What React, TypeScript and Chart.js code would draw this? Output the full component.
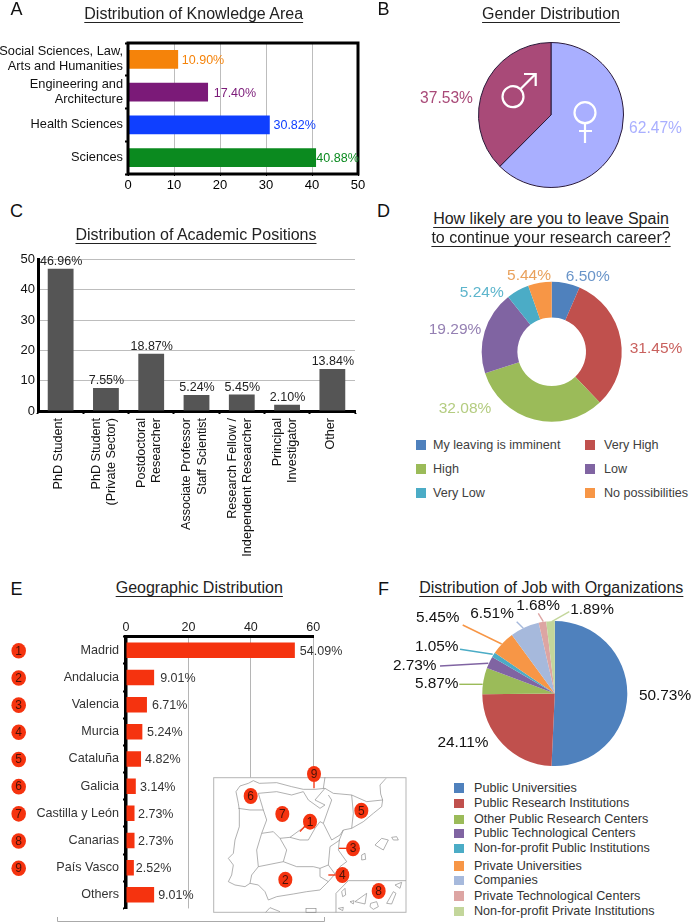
import React, { useEffect, useRef } from "react";
import { Chart, registerables } from "chart.js";

Chart.register(...registerables);

const FONT = '"Liberation Sans", Arial, sans-serif';

// ---------- data ----------
const areaLabels = [["Social Sciences, Law,", "Arts and Humanities"], ["Engineering and", "Architecture"], "Health Sciences", "Sciences"];
const areaValues = [10.9, 17.4, 30.82, 40.88];

const genderLabels = ["Female", "Male"];
const genderValues = [62.47, 37.53];

const positionLabels = [
  "PhD Student",
  ["PhD Student", "(Private Sector)"],
  ["Postdoctoral", "Researcher"],
  ["Associate Professor", "Staff Scientist"],
  ["Research Fellow /", "Independent Researcher"],
  ["Principal", "Investigator"],
  "Other",
];
const positionValues = [46.96, 7.55, 18.87, 5.24, 5.45, 2.1, 13.84];

const leaveLabels = ["My leaving is imminent", "Very High", "High", "Low", "Very Low", "No possibilities"];
const leaveValues = [6.5, 31.45, 32.08, 19.29, 5.24, 5.44];

const regionLabels = ["Madrid", "Andalucia", "Valencia", "Murcia", "Cataluña", "Galicia", "Castilla y León", "Canarias", "País Vasco", "Others"];
const regionValues = [54.09, 9.01, 6.71, 5.24, 4.82, 3.14, 2.73, 2.73, 2.52, 9.01];
const regionMarkers = ["1", "2", "3", "4", "5", "6", "7", "8", "9"];

const jobLabels = [
  "Public Universities",
  "Public Research Institutions",
  "Other Public Research Centers",
  "Public Technological Centers",
  "Non-for-profit Public Institutions",
  "Private Universities",
  "Companies",
  "Private Technological Centers",
  "Non-for-profit Private Institutions",
];
const jobValues = [50.73, 24.11, 5.87, 2.73, 1.05, 5.45, 6.51, 1.68, 1.89];

// ---------- styles ----------
const areaColors = ["#F5830A", "#7B1A78", "#0F3FFF", "#0B8A1F"];
const genderColors = ["#A9AFFF", "#A94A78"];
const leaveColors = ["#4F81BD", "#C0504D", "#9BBB59", "#8064A2", "#4BACC6", "#F79646"];
const leaveTextColors = ["#6A95C9", "#C9615E", "#B4CC80", "#9580B3", "#5DB5CC", "#E9A15C"];
const jobColors = ["#4F81BD", "#C0504D", "#9BBB59", "#8064A2", "#4BACC6", "#F79646", "#A6B9DC", "#DDA5A3", "#C3D69B"];
const RED = "#F5330F";

const boxA = { left: 0, top: 0, width: 370, height: 200 };
const boxB = { left: 370, top: 0, width: 322, height: 200 };
const boxC = { left: 0, top: 240, width: 370, height: 320 };
const boxD = { left: 400, top: 265, width: 292, height: 170 };
const boxE = { left: 0, top: 600, width: 372, height: 320 };
const boxF = { left: 380, top: 600, width: 312, height: 180 };

const areaGaps = [3.7, 5.7, 3.7, 0.3];
const regionGaps = [5, 6, 5, 4.7, 4, 4.2, 3.5, 3.5, 2, 4];

const genderLabelPos = [[655.5, 129], [446.5, 99]];
const leaveLabelPos = [[587.7, 277], [656, 349], [465, 409], [455, 330], [481.7, 292.7], [529, 276]];
const jobLabelPos = [[665, 695.7], [463, 743], [436.7, 684], [414.7, 666], [436.7, 647], [437.7, 618], [492, 614], [538, 606], [592, 610]];
const jobLeaders: (number[] | null)[] = [
  null,
  null,
  [459.3, 684.3, 482.7, 684.3],
  [440, 666, 488.3, 663.3],
  [460, 649.3, 492.7, 654.3],
  [462.7, 625, 501.7, 644],
  [516.7, 621.7, 523.3, 628.3],
  [538.3, 613.3, 543.3, 621.7],
  [551.7, 621.7, 569.3, 611.7],
];

const legendLeave = [[416, 445], [585, 445], [416, 468.7], [585, 468.7], [416, 492.7], [585, 492.7]];
const legendJobY = [787.7, 803.3, 819, 833.3, 848.3, 865.7, 880, 895.7, 911];

const titles: { text: string; x: number; y: number; size: number }[] = [
  { text: "Distribution of Knowledge Area", x: 193.7, y: 14, size: 16 },
  { text: "Gender Distribution", x: 551, y: 14, size: 16 },
  { text: "Distribution of Academic Positions", x: 196, y: 235, size: 16 },
  { text: "How likely are you to leave Spain", x: 551, y: 219, size: 16 },
  { text: "to continue your research career?", x: 551, y: 238, size: 16 },
  { text: "Geographic Distribution", x: 199.3, y: 588, size: 16 },
  { text: "Distribution of Job with Organizations", x: 551.3, y: 588, size: 16 },
];
const panelLetters = [
  ["A", 16.5, 8.5], ["B", 383.5, 8.5], ["C", 16.5, 210.5],
  ["D", 383.5, 210.5], ["E", 16.5, 589], ["F", 383.5, 589],
] as [string, number, number][];

const pct = (v: number) => v.toFixed(2) + "%";

// ---------- plugins ----------
const framePlugin = {
  id: "frame",
  afterDatasetsDraw(chart: any) {
    const { ctx, chartArea: a } = chart;
    ctx.save();
    ctx.strokeStyle = "#000";
    ctx.lineWidth = 3;
    ctx.strokeRect(a.left, a.top, a.right - a.left, a.bottom - a.top);
    ctx.restore();
  },
};

function barLabels(position: "top" | "right", size: number, colors: string | string[], gap: number | number[]) {
  return {
    id: "barLabels",
    afterDatasetsDraw(chart: any) {
      const { ctx } = chart;
      const meta = chart.getDatasetMeta(0);
      ctx.save();
      ctx.font = `${size}px ${FONT}`;
      meta.data.forEach((el: any, i: number) => {
        const t = pct(chart.data.datasets[0].data[i]);
        const g = typeof gap === "number" ? gap : gap[i];
        ctx.fillStyle = typeof colors === "string" ? colors : colors[i];
        if (position === "right") {
          ctx.textAlign = "left";
          ctx.textBaseline = "middle";
          ctx.fillText(t, el.x + g, el.y + 1);
        } else {
          ctx.textAlign = "center";
          ctx.textBaseline = "bottom";
          ctx.fillText(t, el.x + 0.5, el.y - g);
        }
      });
      ctx.restore();
    },
  };
}

// Rotated category labels, each block centred on its tick and hanging from the axis.
const rotatedTicks = {
  id: "rotatedTicks",
  afterDraw(chart: any) {
    const { ctx, scales, chartArea } = chart;
    const lineH = 15.5;
    ctx.save();
    ctx.font = `12.6px ${FONT}`;
    ctx.fillStyle = "#111";
    ctx.textAlign = "right";
    ctx.textBaseline = "middle";
    (chart.data.labels as any[]).forEach((label, i) => {
      const lines = Array.isArray(label) ? label : [label];
      const cx = scales.x.getPixelForValue(i) - 2;
      lines.forEach((line: string, j: number) => {
        ctx.save();
        ctx.translate(cx + (j - (lines.length - 1) / 2) * lineH, chartArea.bottom + 7);
        ctx.rotate(-Math.PI / 2);
        ctx.fillText(line, 0, 0);
        ctx.restore();
      });
    });
    ctx.restore();
  },
};

function pieLabels(box: { left: number; top: number }, pos: number[][], colors: string | string[], size: number, leaders?: (number[] | null)[]) {
  return {
    id: "pieLabels",
    afterDatasetsDraw(chart: any) {
      const { ctx } = chart;
      ctx.save();
      if (leaders) {
        leaders.forEach((l, i) => {
          if (!l) return;
          ctx.strokeStyle = jobColors[i];
          ctx.lineWidth = 1.4;
          ctx.beginPath();
          ctx.moveTo(l[0] - box.left, l[1] - box.top);
          ctx.lineTo(l[2] - box.left, l[3] - box.top);
          ctx.stroke();
        });
      }
      ctx.font = `${size}px ${FONT}`;
      ctx.textAlign = "center";
      ctx.textBaseline = "middle";
      chart.data.datasets[0].data.forEach((v: number, i: number) => {
        ctx.fillStyle = typeof colors === "string" ? colors : colors[i];
        ctx.fillText(pct(v), pos[i][0] - box.left, pos[i][1] - box.top);
      });
      ctx.restore();
    },
  };
}

const markerPlugin = {
  id: "markers",
  afterDatasetsDraw(chart: any) {
    const { ctx, scales } = chart;
    ctx.save();
    regionMarkers.forEach((m, i) => {
      const y = scales.y.getPixelForValue(i) + 0.5;
      ctx.fillStyle = RED;
      ctx.beginPath();
      ctx.ellipse(18.7, y, 7.3, 7.8, 0, 0, Math.PI * 2);
      ctx.fill();
      ctx.fillStyle = "#4a1208";
      ctx.font = `12px ${FONT}`;
      ctx.textAlign = "center";
      ctx.textBaseline = "middle";
      ctx.fillText(m, 18.7, y + 0.5);
    });
    ctx.restore();
  },
};

// ---------- map decoration (zoom coordinates scaled by 1/3) ----------
const coast = "M108,125 L120,108 L145,100 L160,92 L178,100 L230,98 L275,110 L310,118 L345,118 L375,115 L400,130 L455,135 L500,155 L548,150 L545,170 L520,190 L490,215 L455,235 L430,240 L418,270 L415,300 L440,335 L420,350 L405,372 L385,395 L360,420 L320,425 L280,432 L230,440 L205,450 L195,425 L175,405 L150,400 L135,410 L105,405 L85,395 L95,375 L100,345 L85,325 L100,310 L105,270 L118,230 L118,180 L115,160 Z";
const borders = [
  "M375,82 L370,115", "M558,85 L540,105 L542,132 L548,150",
  "M115,175 L150,180 L190,180 L200,210 L185,250 L170,300 L175,350 L155,375 L150,400",
  "M175,130 L190,180", "M175,130 L230,125 L275,135 L310,125",
  "M185,250 L220,245 L240,265 L270,262 L300,270 L325,270 L345,235 L325,225 L300,240 L270,262",
  "M240,265 L260,300 L250,335 L175,350",
  "M250,335 L290,350 L340,350 L360,355 L385,345 L405,372",
  "M360,355 L360,380 L385,395",
  "M385,345 L390,290 L420,270",
  "M385,135 L395,150 L370,220 L395,270 L420,255 L430,240",
  "M455,135 L460,190 L455,235",
  "M310,125 L325,150 L360,175 L375,165 L345,150 L375,115",
  "M345,235 L360,215 L370,220",
  "M525,285 L545,265 L565,270 L550,300 Z", "M575,262 L590,260 L595,270 L580,270 Z", "M485,315 L495,310 L497,328 L485,330 Z",
  "M425,425 L435,415 L437,435 L428,440 Z", "M465,455 L500,430 L495,462 Z", "M450,455 L462,452 L460,462 Z", "M512,460 L530,455 L535,470 L520,478 L510,470 Z",
  "M560,460 L580,425 L588,430 L575,462 Z", "M585,405 L605,397 L600,415 Z", "M415,475 L430,472 L428,482 Z",
  "M197,487 L210,473 L240,485",
];
const mapMarkers: [string, number, number][] = [["9", 342, 72], ["6", 152, 138], ["7", 247, 192], ["1", 330, 215], ["5", 484, 182], ["3", 459, 295], ["4", 427, 375], ["2", 256, 389], ["8", 536, 423]];
const mapLeaders = ["M342,95 L342,115", "M315,228 L300,245", "M440,295 L417,295", "M407,375 L385,375"];

export default function App() {
  const a = useRef<HTMLCanvasElement>(null);
  const b = useRef<HTMLCanvasElement>(null);
  const c = useRef<HTMLCanvasElement>(null);
  const d = useRef<HTMLCanvasElement>(null);
  const e = useRef<HTMLCanvasElement>(null);
  const f = useRef<HTMLCanvasElement>(null);

  useEffect(() => {
    Chart.defaults.font.family = FONT;
    Chart.defaults.color = "#111";
    const base = { responsive: false, animation: false as const };
    const noLegend = { legend: { display: false }, tooltip: { enabled: false } };
    const charts: Chart[] = [];

    charts.push(new Chart(a.current!, {
      type: "bar",
      data: { labels: areaLabels as any, datasets: [{ data: areaValues, backgroundColor: areaColors, barPercentage: 0.565, categoryPercentage: 1 }] },
      options: {
        ...base, indexAxis: "y",
        layout: { padding: { top: 43, right: 12, left: 0, bottom: 0 } },
        plugins: noLegend,
        scales: {
          x: {
            min: 0, max: 50,
            ticks: { stepSize: 10, font: { size: 13 }, padding: 2, color: "#000", maxRotation: 0 },
            grid: { color: "#bdbdbd", tickLength: 2, tickColor: "#000" },
            border: { display: false },
            afterFit: (s: any) => { s.height = 26; },
          },
          y: {
            ticks: { font: { size: 12.8, lineHeight: 1.17 }, padding: 2, color: "#111", autoSkip: false },
            grid: { drawOnChartArea: false, tickLength: 3, tickColor: "#000", tickWidth: 2 },
            border: { display: false },
            afterFit: (s: any) => { s.width = 128; },
          },
        },
      },
      plugins: [framePlugin, barLabels("right", 12.5, areaColors, areaGaps)],
    } as any));

    charts.push(new Chart(b.current!, {
      type: "pie",
      data: { labels: genderLabels, datasets: [{ data: genderValues, backgroundColor: genderColors, borderColor: "#2a1a3a", borderWidth: 1 }] },
      options: {
        ...base,
        layout: { padding: { left: 108, right: 68, top: 42, bottom: 12 } },
        plugins: noLegend,
      },
      plugins: [pieLabels(boxB, genderLabelPos, genderColors, 15.6)],
    } as any));

    charts.push(new Chart(c.current!, {
      type: "bar",
      data: { labels: positionLabels as any, datasets: [{ data: positionValues, backgroundColor: "#555555", barPercentage: 0.57, categoryPercentage: 1 }] },
      options: {
        ...base,
        layout: { padding: { top: 19.5, right: 15, left: 0, bottom: 0 } },
        plugins: noLegend,
        scales: {
          x: {
            ticks: { display: false },
            grid: { drawOnChartArea: false, tickLength: 3, tickColor: "#000", tickWidth: 2 },
            border: { color: "#000", width: 3 },
            afterFit: (s: any) => { s.height = 149; },
          },
          y: {
            min: 0, max: 50,
            ticks: { stepSize: 10, font: { size: 13 }, color: "#111", padding: 3 },
            grid: { color: "#bdbdbd", tickLength: 0 },
            border: { color: "#000", width: 3 },
            afterFit: (s: any) => { s.width = 38; },
          },
        },
      },
      plugins: [barLabels("top", 12.5, "#222", 1), rotatedTicks],
    } as any));

    charts.push(new Chart(d.current!, {
      type: "doughnut",
      data: { labels: leaveLabels, datasets: [{ data: leaveValues, backgroundColor: leaveColors, borderWidth: 0 }] },
      options: {
        ...base, cutout: "49%",
        layout: { padding: { left: 81.7, right: 70.3, top: 16.7, bottom: 13.3 } },
        plugins: noLegend,
      },
      plugins: [pieLabels(boxD, leaveLabelPos, leaveTextColors, 15.5)],
    } as any));

    charts.push(new Chart(e.current!, {
      type: "bar",
      data: { labels: regionLabels, datasets: [{ data: regionValues, backgroundColor: RED, barPercentage: 0.57, categoryPercentage: 1 }] },
      options: {
        ...base, indexAxis: "y",
        layout: { padding: { top: 0, right: 58.7, left: 0, bottom: 5 } },
        plugins: noLegend,
        scales: {
          x: {
            position: "top",
            min: 0, max: 60,
            ticks: { stepSize: 20, font: { size: 12.5 }, color: "#222", padding: 2 },
            grid: { color: "#b5b5b5", tickLength: 0 },
            border: { color: "#000", width: 3 },
            afterFit: (s: any) => { s.height = 36.7; },
          },
          y: {
            ticks: { font: { size: 12.6 }, color: "#333", padding: 4, autoSkip: false },
            grid: { drawOnChartArea: false, tickLength: 3, tickColor: "#000", tickWidth: 2 },
            border: { color: "#000", width: 3.5 },
            afterFit: (s: any) => { s.width = 126; },
          },
        },
      },
      plugins: [markerPlugin, barLabels("right", 12.5, "#333", regionGaps)],
    } as any));

    charts.push(new Chart(f.current!, {
      type: "pie",
      data: { labels: jobLabels, datasets: [{ data: jobValues, backgroundColor: jobColors, borderWidth: 0 }] },
      options: {
        ...base,
        layout: { padding: { left: 102.3, right: 64.7, top: 21, bottom: 14 } },
        plugins: noLegend,
      },
      plugins: [pieLabels(boxF, jobLabelPos, "#111", 15.4, jobLeaders)],
    } as any));

    return () => charts.forEach((ch) => ch.destroy());
  }, []);

  const cv = (ref: any, box: any) => (
    <canvas ref={ref} width={box.width} height={box.height}
      style={{ position: "absolute", left: box.left, top: box.top, width: box.width, height: box.height }} />
  );
  const textBase: React.CSSProperties = { position: "absolute", fontFamily: FONT, whiteSpace: "nowrap", lineHeight: 1 };

  return (
    <div style={{ position: "absolute", left: 0, top: 0, width: 692, height: 924, overflow: "hidden", background: "#fff" }}>
      {cv(a, boxA)}{cv(b, boxB)}{cv(c, boxC)}{cv(d, boxD)}{cv(e, boxE)}{cv(f, boxF)}

      {titles.map((t) => (
        <div key={t.text} style={{ ...textBase, left: t.x, top: t.y, fontSize: t.size, color: "#222", transform: "translate(-50%,-50%)", textDecoration: "underline", textDecorationThickness: 1, textUnderlineOffset: 3 }}>{t.text}</div>
      ))}
      {panelLetters.map(([l, x, y]) => (
        <div key={l} style={{ ...textBase, left: x, top: y, fontSize: 18, color: "#111", transform: "translate(-50%,-50%)" }}>{l}</div>
      ))}

      {leaveLabels.map((l, i) => (
        <React.Fragment key={l}>
          <div style={{ position: "absolute", left: legendLeave[i][0], top: legendLeave[i][1] - 5, width: 10, height: 10, background: leaveColors[i] }} />
          <div style={{ ...textBase, left: legendLeave[i][0] + (i % 2 ? 19 : 17), top: legendLeave[i][1], fontSize: 12.6, color: "#404040", transform: "translateY(-50%)" }}>{l}</div>
        </React.Fragment>
      ))}
      {jobLabels.map((l, i) => (
        <React.Fragment key={l}>
          <div style={{ position: "absolute", left: 454, top: legendJobY[i] - 4.5, width: 9.5, height: 9.5, background: jobColors[i] }} />
          <div style={{ ...textBase, left: 474, top: legendJobY[i], fontSize: 12.6, color: "#333", transform: "translateY(-50%)" }}>{l}</div>
        </React.Fragment>
      ))}

      <svg width={692} height={924} style={{ position: "absolute", left: 0, top: 0, pointerEvents: "none" }}>
        <g fill="none" stroke="#fff" strokeWidth={2.2}>
          <circle cx={513} cy={96.7} r={10.5} />
          <path d="M520.5,89 L535.5,74 M524,74 L535.7,74 L535.7,86" />
          <circle cx={585} cy={112.7} r={10.5} />
          <path d="M585,123 L585,143 M579,131 L592,131" />
        </g>
        <path d="M57.5,917 L57.5,921.5 L324.5,921.5 L324.5,917" fill="none" stroke="#aaa" />
        <rect x={213.7} y={777.7} width={192.3} height={134.6} fill="#fff" stroke="#b5b5b5" />
        <g transform="translate(200,750) scale(0.33333)">
          <path d={coast} fill="none" stroke="#8a8a8a" strokeWidth={2} />
          {borders.map((p) => <path key={p} d={p} fill="none" stroke="#8a8a8a" strokeWidth={2} />)}
          <path d="M618,392 L445,392 L408,430 L408,487" fill="none" stroke="#8a8a8a" strokeWidth={2} />
          <rect x={318} y={475} width={30} height={12} fill="none" stroke="#8a8a8a" strokeWidth={2} />
          {mapLeaders.map((p) => <path key={p} d={p} stroke={RED} strokeWidth={4} />)}
          {mapMarkers.map(([n, x, y]) => (
            <g key={n}>
              <ellipse cx={x} cy={y} rx={21} ry={24} fill={RED} />
              <text x={x} y={y + 12} textAnchor="middle" fontFamily={FONT} fontSize={36} fill="#4a1208">{n}</text>
            </g>
          ))}
        </g>
      </svg>
    </div>
  );
}
